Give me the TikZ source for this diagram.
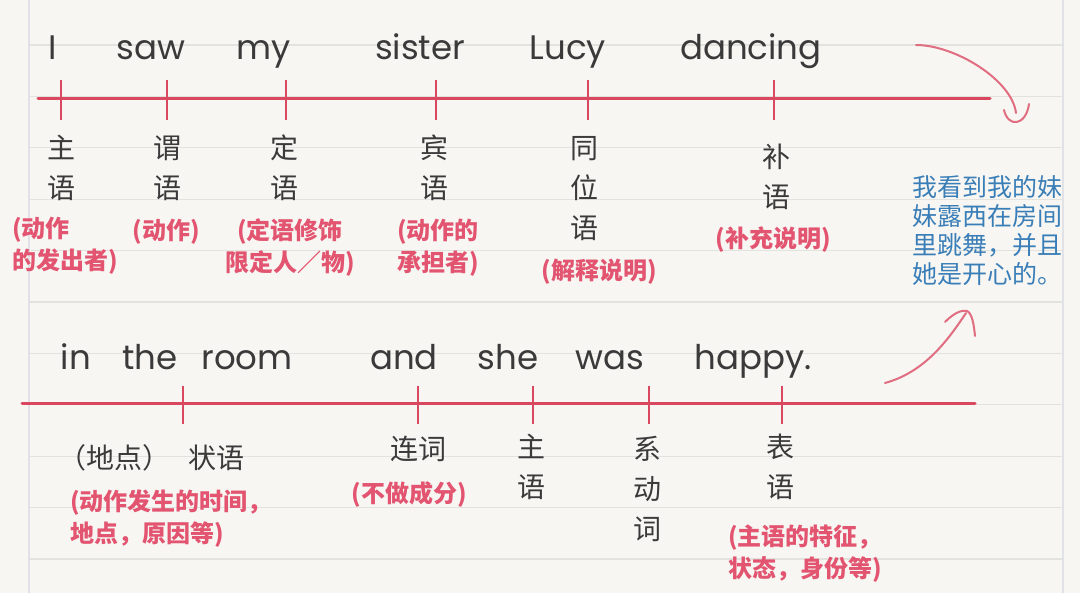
\documentclass[tikz,border=0pt]{standalone}
\usepackage{fontspec}
\setmainfont{Poppins}
\newfontfamily\cjk{Noto Sans CJK SC}
\definecolor{paper}{RGB}{247,246,242}
\definecolor{ruling}{RGB}{226,226,223}
\definecolor{margin}{RGB}{224,226,232}
\definecolor{ink}{RGB}{58,58,58}
\definecolor{penred}{RGB}{218,72,96}
\definecolor{notered}{RGB}{226,84,112}
\definecolor{penblue}{RGB}{58,126,184}
\begin{document}
\begin{tikzpicture}[
    x=1pt, y=-1pt,
    word/.style={anchor=base, text=ink, font=\fontsize{34}{40}\selectfont},
    part/.style={align=center, text=ink, font=\cjk\fontsize{28}{40}\selectfont},
    note/.style={align=center, text=notered, inner sep=0pt, font=\cjk\bfseries\fontsize{24}{32}\selectfont},
    redline/.style={draw=penred, line width=3pt, line cap=round},
    tickmark/.style={draw=penred, line width=2.6pt},
    pen/.style={draw=penred!80!white, line width=2pt, line cap=round, line join=round}
]
    % Paper
    \fill[paper] (0,0) rectangle (1080,593);
    \useasboundingbox (0,0) rectangle (1080,593);
    \foreach \k in {0,...,10}
        \draw[ruling, line width=1.2pt] (29,45+51.4*\k) -- (1063,45+51.4*\k);
    \draw[margin, line width=1.2pt] (29,0) -- (29,593);
    \draw[margin, line width=1.2pt] (1063,0) -- (1063,593);

    % First sentence
    \node[word] (i) at (53,60) {I};
    \node[word] (saw) at (151,60) {saw};
    \node[word] (my) at (264,60) {my};
    \node[word] (sister) at (420,60) {sister};
    \node[word] (lucy) at (568,60) {Lucy};
    \node[word] (dancing) at (751,60) {dancing};

    \draw[redline] (38,99) coordinate (topl) -- (990,99) coordinate (topr);
    \foreach \x in {61,167,286,436,588,774}
        \draw[tickmark] (\x,80) -- (\x,120);

    \node[part] (zhu) at (61,168) {主\\语};
    \node[part] (wei) at (167,168) {谓\\语};
    \node[part] (ding) at (284,168) {定\\语};
    \node[part] (bin) at (434,168) {宾\\语};
    \node[part] (tong) at (584,189) {同\\位\\语};
    \node[part] (bu) at (776,177) {补\\语};

    \node[note, align=left, anchor=west] (n1) at (12,246) {(动作\\的发出者)};
    \node[note] (n2) at (166,232) {(动作)};
    \node[note] (n3) at (290,248) {(定语修饰\\限定人／物)};
    \node[note] (n4) at (438,248) {(动作的\\承担者)};
    \node[note] (n5) at (599,272) {(解释说明)};
    \node[note] (n6) at (773,240) {(补充说明)};

    % Translation
    \node[align=left, anchor=north west, inner sep=0pt, text=penblue,
          font=\cjk\fontsize{25}{29}\selectfont] (trans) at (912,175)
          {我看到我的妹\\妹露西在房间\\里跳舞，并且\\她是开心的。};

    % Second sentence
    \node[word] (in) at (76,370) {in};
    \node[word] (the) at (150,370) {the};
    \node[word] (room) at (247,370) {room};
    \node[word] (and) at (404,370) {and};
    \node[word] (she) at (508,370) {she};
    \node[word] (was) at (610,370) {was};
    \node[word] (happy) at (753,370) {happy.};

    \draw[redline] (22,404) coordinate (botl) -- (975,404) coordinate (botr);
    \foreach \x in {183,418,533,649,782}
        \draw[tickmark] (\x,386) -- (\x,424);

    \node[part, anchor=west, inner sep=0pt] (zhuang) at (58,458) {（地点）\hspace{18pt}状语};
    \node[part] (lian) at (418,449) {连词};
    \node[part] (zhu2) at (531,467) {主\\语};
    \node[part] (xi) at (647,489) {系\\动\\词};
    \node[part] (biao) at (780,467) {表\\语};

    \node[note, align=left, anchor=west] (n7) at (70,519) {(动作发生的时间，\\地点，原因等)};
    \node[note] (n8) at (409,494) {(不做成分)};
    \node[note, align=left, anchor=west] (n9) at (728,554) {(主语的特征，\\状态，身份等)};

    % Hand-drawn arrows
    \coordinate (upa) at (916,45);
    \coordinate (upb) at (1016,113);
    \draw[pen] (upa) .. controls (955,45) and (1012,80) .. (upb);
    \draw[pen] (1004,110) .. controls (1008,128) and (1026,126) .. (1029,104);
    \coordinate (dna) at (885,383);
    \coordinate (dnb) at (966,313);
    \draw[pen] (dna) .. controls (925,372) and (948,340) .. (dnb);
    \draw[pen] (945,322) .. controls (955,312) and (962,310) .. (967,311)
        .. controls (972,313) and (974,325) .. (975,336);
\end{tikzpicture}
\end{document}
